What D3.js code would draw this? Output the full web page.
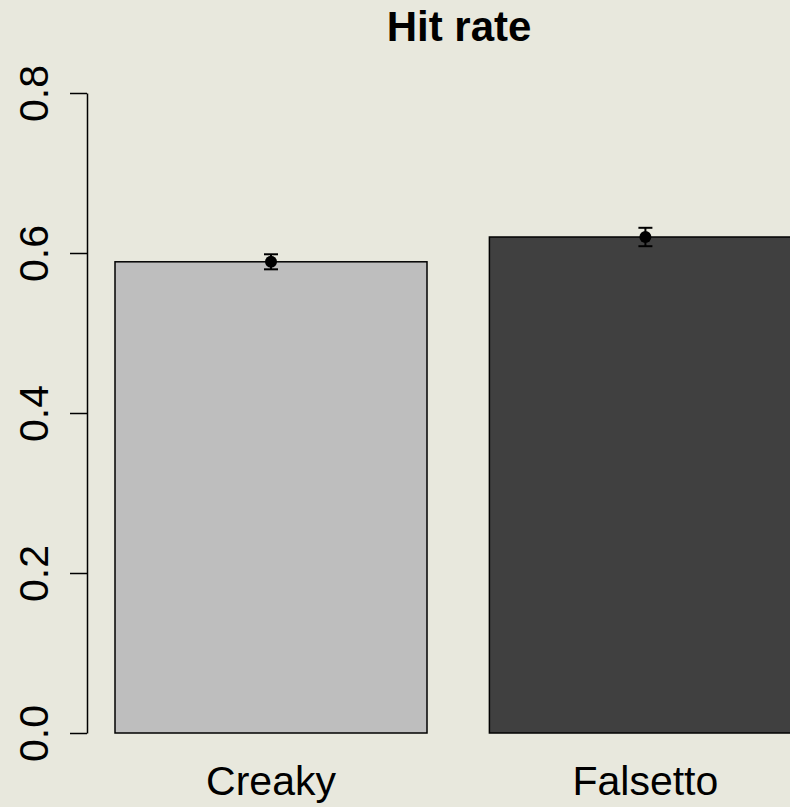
<!DOCTYPE html>
<html>
<head>
<meta charset="utf-8">
<script src="https://cdn.jsdelivr.net/npm/d3@7"></script>
<style>
  body { margin: 0; background: #e8e8dd; }
  svg { display: block; }
  text { font-family: "Liberation Sans", Arial, sans-serif; fill: #000; }
</style>
</head>
<body>
<div id="chart"></div>
<script>
// data
var categories = ["Creaky", "Falsetto"];
var hitRate = [0.589, 0.620];
var stdErr = [0.0094, 0.0115];
var barColors = ["#bebebe", "#404040"];
var yTicks = [0.0, 0.2, 0.4, 0.6, 0.8];

var svgWidth = 790;
var svgHeight = 807;

var svg = d3.select("#chart")
  .append("svg")
  .attr("width", svgWidth)
  .attr("height", svgHeight);

svg.append("rect")
  .attr("width", svgWidth)
  .attr("height", svgHeight)
  .attr("fill", "#e8e8dd");

// scales (R barplot spacing: gap = 0.2 of bar width)
var xScale = d3.scaleBand()
  .domain(categories)
  .range([115, 801.4])
  .paddingInner(1 / 6)
  .paddingOuter(0);

var yScale = d3.scaleLinear()
  .domain([0, 0.8])
  .range([733, 93]);

var data = categories.map(function(c, i) {
  return { name: c, value: hitRate[i], se: stdErr[i], color: barColors[i] };
});

// bars
svg.selectAll("rect.bar")
  .data(data)
  .enter()
  .append("rect")
  .attr("class", "bar")
  .attr("x", d => xScale(d.name))
  .attr("y", d => yScale(d.value))
  .attr("width", xScale.bandwidth())
  .attr("height", d => yScale(0) - yScale(d.value))
  .attr("fill", d => d.color)
  .attr("stroke", "#000")
  .attr("stroke-width", 1.5);

// error bars
var cx = d => xScale(d.name) + xScale.bandwidth() / 2;
var err = svg.selectAll("g.err")
  .data(data)
  .enter()
  .append("g")
  .attr("class", "err")
  .attr("stroke", "#000")
  .attr("stroke-width", 2);

err.append("line")
  .attr("x1", cx).attr("x2", cx)
  .attr("y1", d => yScale(d.value + d.se))
  .attr("y2", d => yScale(d.value - d.se));
err.append("line")
  .attr("x1", d => cx(d) - 7).attr("x2", d => cx(d) + 7)
  .attr("y1", d => yScale(d.value + d.se))
  .attr("y2", d => yScale(d.value + d.se));
err.append("line")
  .attr("x1", d => cx(d) - 7).attr("x2", d => cx(d) + 7)
  .attr("y1", d => yScale(d.value - d.se))
  .attr("y2", d => yScale(d.value - d.se));
err.append("circle")
  .attr("cx", cx)
  .attr("cy", d => yScale(d.value))
  .attr("r", 6)
  .attr("fill", "#000")
  .attr("stroke", "none");

// y axis
var leftAxis = d3.axisLeft(yScale)
  .tickValues(yTicks)
  .tickSize(17)
  .tickSizeOuter(0)
  .tickFormat(d3.format(".1f"));

var yAxis = svg.append("g")
  .attr("transform", "translate(87,0)")
  .call(leftAxis);

yAxis.select(".domain").attr("stroke", "#000").attr("stroke-width", 1.5);
yAxis.selectAll(".tick line").attr("stroke", "#000").attr("stroke-width", 1.5);
yAxis.selectAll(".tick text")
  .attr("x", null).attr("dy", null)
  .attr("transform", "translate(-39,0) rotate(-90)")
  .attr("text-anchor", "middle")
  .style("font-family", "'Liberation Sans', Arial, sans-serif")
  .style("font-size", "41px")
  .attr("fill", "#000");

// category labels
svg.selectAll("text.cat")
  .data(data)
  .enter()
  .append("text")
  .attr("class", "cat")
  .attr("x", cx)
  .attr("y", 795)
  .attr("text-anchor", "middle")
  .style("font-size", "41px")
  .text(d => d.name);

// title
svg.append("text")
  .attr("x", 459)
  .attr("y", 41)
  .attr("text-anchor", "middle")
  .style("font-size", "42px")
  .style("font-weight", "bold")
  .text("Hit rate");
</script>
</body>
</html>
